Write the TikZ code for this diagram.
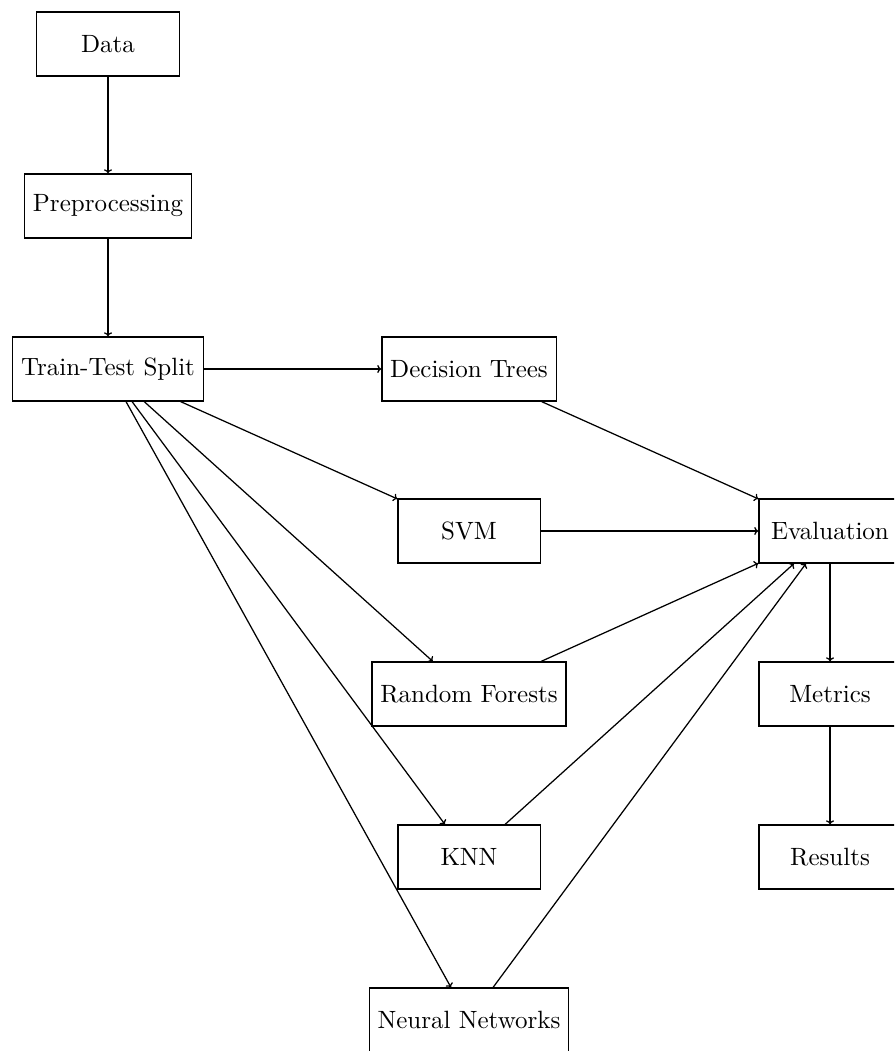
\documentclass[tikz,border=0pt]{standalone}
\usetikzlibrary{arrows.meta}
\begin{document}
\begin{tikzpicture}[x=0.4pt,y=-0.4pt,
  box/.style={draw, line width=0.5pt, rectangle, minimum width=2cm, minimum height=0.9cm, inner sep=3.33pt},
  conn/.style={-{To[length=1.6pt,width=3.2pt]}, line width=0.5pt}]
\clip (0,0) rectangle (894,1051);
\useasboundingbox (0,0) rectangle (894,1051);
\node[box] (data) at (108,44) {Data};
\node[box] (pre) at (108,206) {Preprocessing};
\node[box] (split) at (108,369) {Train-Test Split};
\node[box] (dt) at (469,369) {Decision Trees};
\node[box] (svm) at (469,531) {SVM};
\node[box] (rf) at (469,694) {Random Forests};
\node[box] (knn) at (469,857) {KNN};
\node[box] (nn) at (469,1020) {Neural Networks};
\node[box] (eval) at (830,531) {Evaluation};
\node[box] (met) at (830,694) {Metrics};
\node[box] (res) at (830,857) {Results};
\draw[conn] (data) -- (pre);
\draw[conn] (pre) -- (split);
\draw[conn] (split) -- (dt);
\draw[conn] (split) -- (svm);
\draw[conn] (split) -- (rf);
\draw[conn] (split) -- (knn);
\draw[conn] (split) -- (nn);
\draw[conn] (dt) -- (eval);
\draw[conn] (svm) -- (eval);
\draw[conn] (rf) -- (eval);
\draw[conn] (knn) -- (eval);
\draw[conn] (nn) -- (eval);
\draw[conn] (eval) -- (met);
\draw[conn] (met) -- (res);
\end{tikzpicture}
\end{document}
